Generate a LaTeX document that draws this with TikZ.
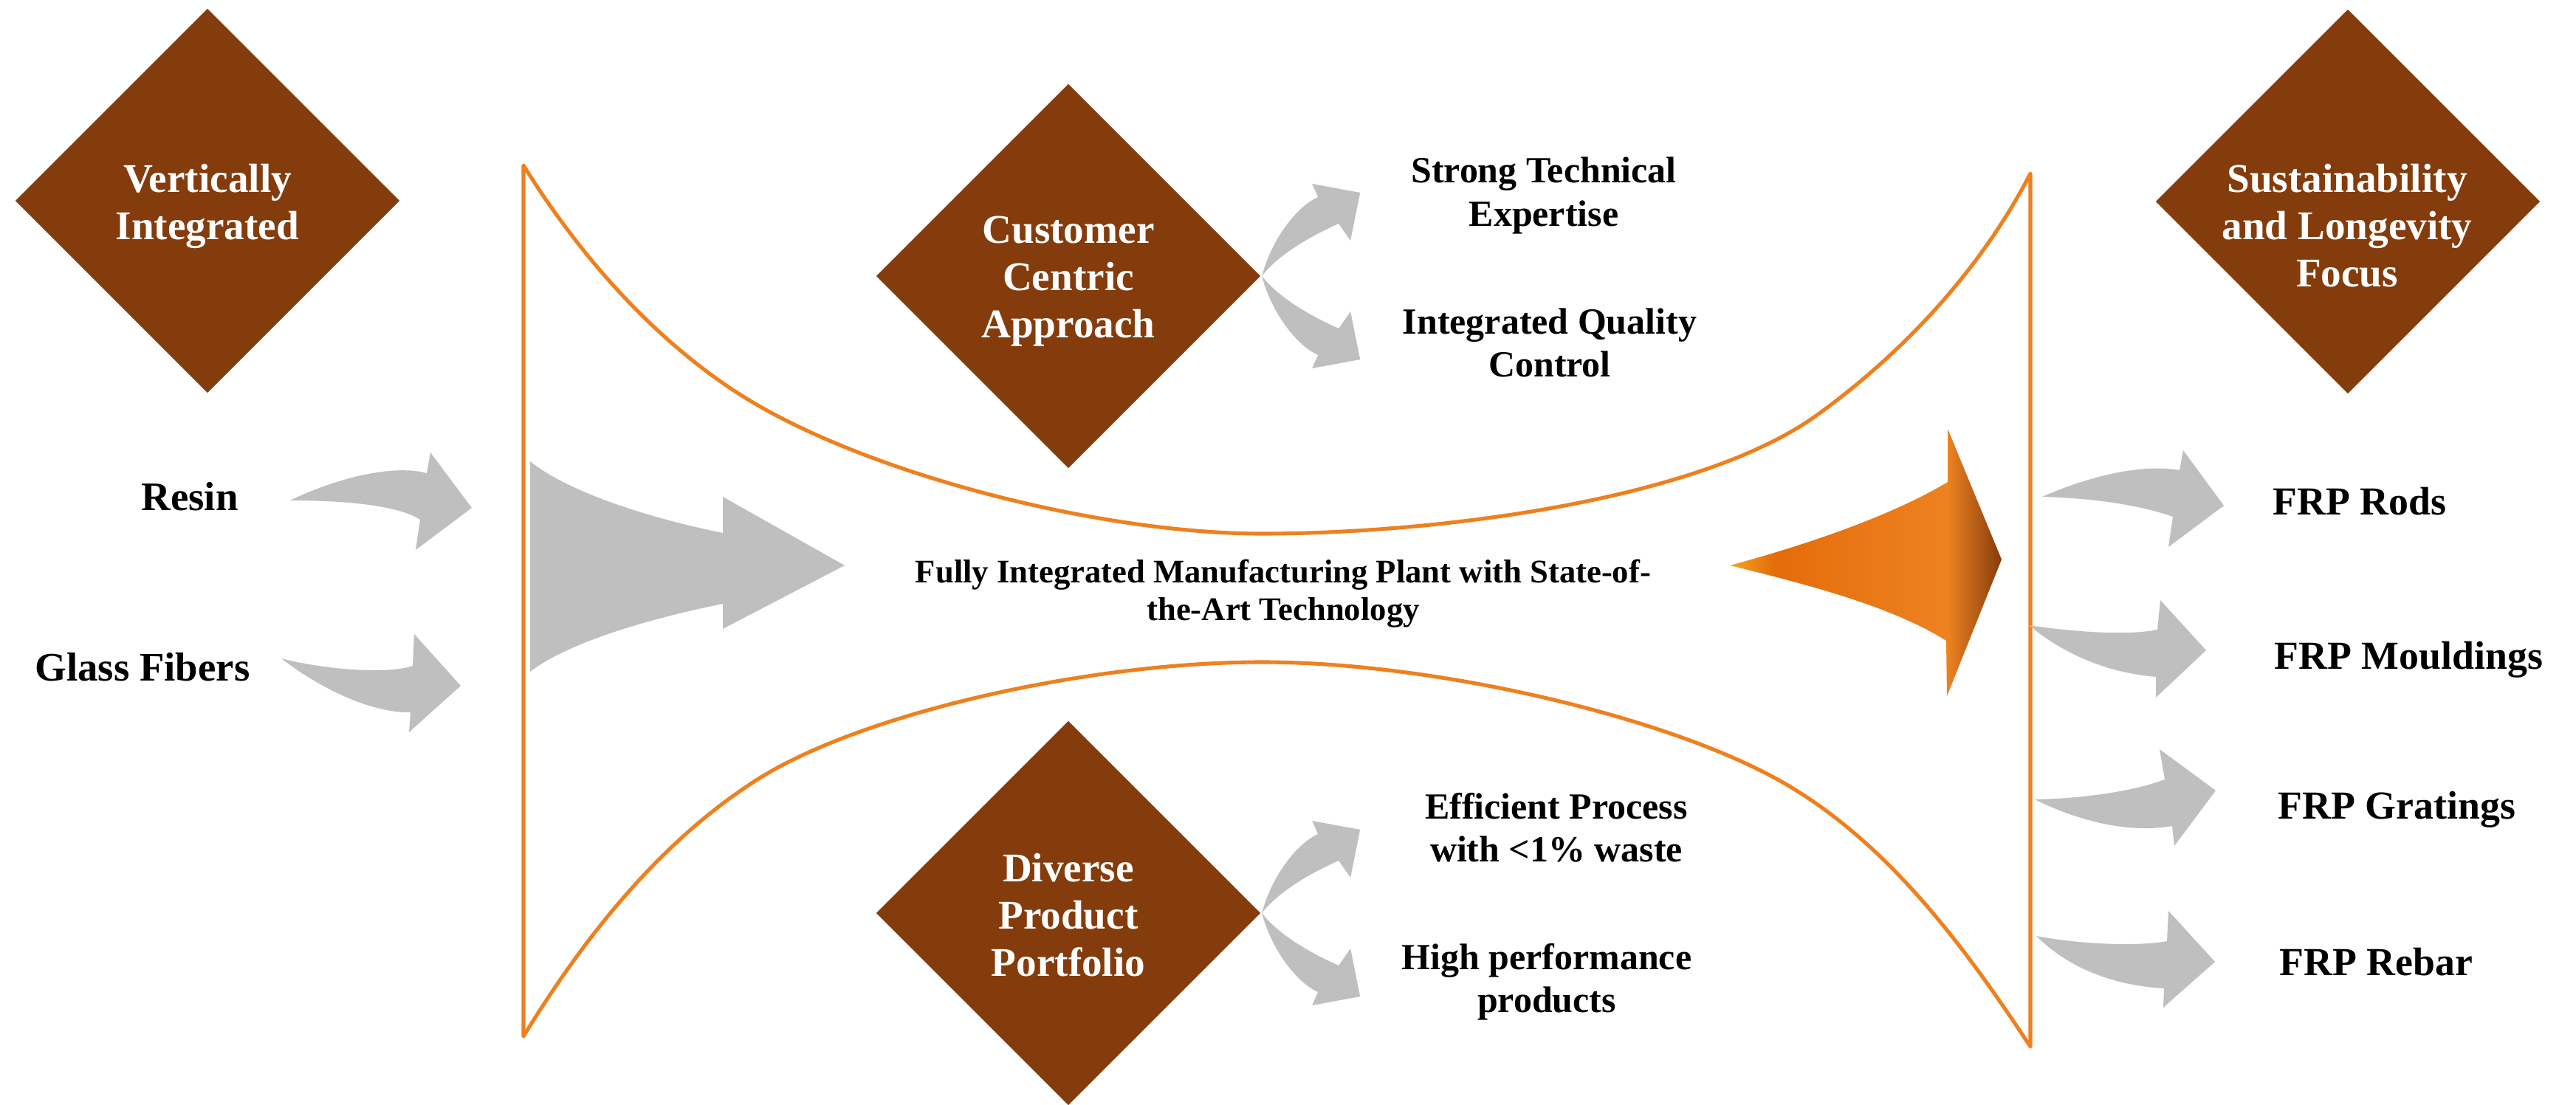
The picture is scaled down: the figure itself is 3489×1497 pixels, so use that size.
\documentclass[tikz,border=0pt]{standalone}
\usepackage{fontspec}
\setmainfont{Liberation Serif}
\usetikzlibrary{shapes.geometric}
\definecolor{brownD}{RGB}{132,60,12}
\definecolor{grayA}{RGB}{191,191,191}
\definecolor{orangeL}{RGB}{238,128,30}
\definecolor{orA}{RGB}{245,166,35}
\definecolor{orB}{RGB}{228,108,10}
\definecolor{orC}{RGB}{238,130,32}
\pgfdeclarehorizontalshading{outarrow}{100bp}{color(0bp)=(orA); color(25bp)=(orA); color(33bp)=(orB); color(65bp)=(orC); color(75bp)=(brownD); color(100bp)=(brownD)}
\tikzset{
  dia/.style={shape=diamond, aspect=1, fill=brownD, draw=none, minimum width=5.2cm, minimum height=5.2cm, inner sep=0pt, outer sep=0pt},
  dtext/.style={text=white, align=center, inner sep=0pt, font=\bfseries\fontsize{15.7}{18.2}\selectfont},
  lbl/.style={text=black, inner sep=0pt, font=\bfseries\fontsize{15.6}{18}\selectfont},
  frp/.style={text=black, inner sep=0pt, anchor=west, font=\bfseries\fontsize{15.3}{18}\selectfont},
  side/.style={text=black, align=center, inner sep=0pt, font=\bfseries\fontsize{14.2}{16.5}\selectfont},
  mid/.style={text=black, align=center, inner sep=0pt, font=\bfseries\fontsize{12.7}{14.5}\selectfont},
  funnel/.style={draw=orangeL, line width=1.45pt, line join=round},
  garrow/.style={fill=grayA, draw=none},
  uparr/.pic={\fill[grayA] (2,0) .. controls (15,-50) and (50,-95) .. (78,-107) -- (70,-125) -- (135,-113) -- (122,-48) -- (106,-71) .. controls (70,-55) and (25,-30) .. (2,0) -- cycle;},
  dnarr/.pic={\fill[grayA] (2,0) .. controls (15,50) and (50,95) .. (78,107) -- (70,125) -- (135,113) -- (122,48) -- (106,71) .. controls (70,55) and (25,30) .. (2,0) -- cycle;}
}
\begin{document}
\begin{tikzpicture}[x=0.01cm, y=-0.01cm]
\useasboundingbox (0,0) rectangle (3489,1497);
\fill[white] (0,0) rectangle (3489,1497);

% funnel outline
\draw[funnel] (709,224) .. controls (783,343) and (882,457) .. (1000,533)
  .. controls (1168,641) and (1489,723) .. (1709,723)
  .. controls (1942,723) and (2298,679) .. (2460,563)
  .. controls (2578,478) and (2683,365) .. (2750,235)
  -- (2750,1418)
  .. controls (2658,1278) and (2551,1134) .. (2404,1054)
  .. controls (2246,968) and (1939,897) .. (1709,897)
  .. controls (1479,897) and (1174,964) .. (1029,1054)
  .. controls (895,1138) and (791,1270) .. (709,1404)
  -- cycle;

% diamonds
\node[dia] (vi) at (281,272) {};
\node[dia] (cust) at (1447,374) {};
\node[dia] (div) at (1447,1237) {};
\node[dia] (sus) at (3180,273) {};

\node[dtext] (vit) at (281,279) {Vertically\\Integrated};
\node[dtext] (custt) at (1447,381) {Customer\\Centric\\Approach};
\node[dtext] (divt) at (1447,1240) {Diverse\\Product\\Portfolio};
\node[dtext] (sust) at (3179,306) {Sustainability\\and Longevity\\Focus};

% small arrows from diamonds
\pic at (cust.east) {uparr};
\pic at (cust.east) {dnarr};
\pic at (div.east) {uparr};
\pic at (div.east) {dnarr};

% side labels
\node[side] (ste) at (2091,265) {Strong Technical\\Expertise};
\node[side] (iqc) at (2099,464) {Integrated Quality\\Control};
\node[side] (epw) at (2108,1121) {Efficient Process\\with <1\% waste};
\node[side] (hpp) at (2095,1330) {High performance\\products};

% input labels and arrows
\node[lbl] (resin) at (257,673) {Resin};
\node[lbl] (glass) at (193,904) {Glass Fibers};
\fill[garrow] (393,678) .. controls (450,650) and (530,628) .. (578,641) -- (583,613) -- (639,688) -- (563,745) -- (569,704) .. controls (540,685) and (470,678) .. (393,678) -- cycle;
\fill[garrow] (381,892) .. controls (430,905) and (520,915) .. (559,902) -- (561,859) -- (624,929) -- (554,992) -- (556,965) .. controls (500,966) and (430,930) .. (381,892) -- cycle;

% big gray arrow
\fill[garrow] (718,625) .. controls (770,667) and (880,702) .. (979,722) -- (979,673) -- (1144,766) -- (979,852) -- (979,818) .. controls (880,838) and (770,870) .. (718,910) -- cycle;

% central text
\node[mid] (plant) at (1738,804) {Fully Integrated Manufacturing Plant with State-of-\\the-Art Technology};

% orange output arrow
\shade[shading=outarrow] (2343,766) .. controls (2440,740) and (2560,700) .. (2638,653) -- (2638,581) -- (2711,758) -- (2637,943) -- (2636,868) .. controls (2560,820) and (2440,790) .. (2343,766) -- cycle;

% output arrows
\fill[garrow] (2766,673) .. controls (2830,645) and (2900,628) .. (2952,637) -- (2957,610) -- (3012,685) -- (2937,741) -- (2943,700) .. controls (2900,685) and (2840,675) .. (2766,673) -- cycle;
\fill[garrow] (2748,847) .. controls (2800,855) and (2880,862) .. (2922,853) -- (2926,813) -- (2988,881) -- (2920,945) -- (2920,917) .. controls (2860,912) and (2800,890) .. (2748,847) -- cycle;
\fill[garrow] (2756,1083) .. controls (2820,1082) and (2890,1072) .. (2932,1056) -- (2925,1015) -- (3001,1071) -- (2945,1146) -- (2942,1119) .. controls (2880,1130) and (2810,1110) .. (2756,1083) -- cycle;
\fill[garrow] (2758,1268) .. controls (2820,1280) and (2900,1282) .. (2935,1275) -- (2937,1234) -- (3000,1303) -- (2930,1365) -- (2931,1339) .. controls (2860,1335) and (2800,1310) .. (2758,1268) -- cycle;

% output labels
\node[frp] (rods) at (3078,679) {FRP Rods};
\node[frp] (mould) at (3080,894) {FRP Mouldings};
\node[frp] (grat) at (3085,1097) {FRP Gratings};
\node[frp] (rebar) at (3087,1303) {FRP Rebar};
\end{tikzpicture}
\end{document}
